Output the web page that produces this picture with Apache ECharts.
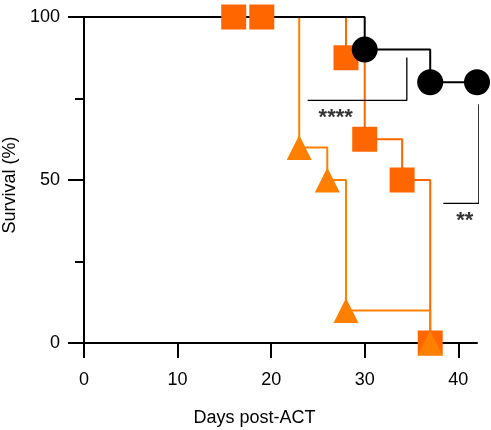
<!doctype html>
<html>
    <head>
        <meta charset="utf-8">
        <title>Survival</title>
        <style>
            html, body { margin: 0; padding: 0; background: #fff; }
            #main { width: 491px; height: 430px; }
        </style>
    </head>
    <body>
        <div id="main"></div>
        <script src="https://cdn.jsdelivr.net/npm/echarts@6/dist/echarts.min.js"></script>
        <script>
            var chart = echarts.init(document.getElementById('main'));

            // Kaplan-Meier steps: [day, survival %]
            var circleDays = [0, 30, 37, 42];
            var circleSurv = [100, 90, 80, 80];
            var squareDays = [0, 16, 19, 28, 30, 34, 37];
            var squareSurv = [100, 100, 100, 87.5, 62.5, 50, 0];
            var triangleDays = [0, 23, 26, 28, 37];
            var triangleSurv = [100, 60, 50, 10, 0];

            var xTicks = [0, 10, 20, 30, 40];
            var yTicks = [0, 50, 100];

            // significance brackets (data units)
            var bracketA = [[23.9, 74.4], [34.5, 74.4], [34.5, 87.6]];
            var bracketB = [[38.4, 42.8], [42.2, 42.8], [42.2, 73.2]];
            var starLabels = [[26.9, 69.0, '****'], [40.7, 37.4, '**']];

            function stepData(days, surv) {
                return days.map(function (d, i) {
                    return i === 0 ? { value: [d, surv[i]], symbol: 'none' } : [d, surv[i]];
                });
            }

            var font = 'Liberation Sans, Arial, sans-serif';

            function kmSeries(days, surv, color, symbol, size) {
                return {
                    type: 'line',
                    step: 'end',
                    data: stepData(days, surv),
                    symbol: symbol,
                    symbolSize: size,
                    showAllSymbol: true,
                    clip: false,
                    lineStyle: { color: color, width: 2 },
                    itemStyle: { color: color, borderWidth: 0 },
                    emphasis: { disabled: true },
                    animation: false
                };
            }

            function bracket(pts) {
                return {
                    type: 'line',
                    data: pts,
                    symbol: 'none',
                    clip: false,
                    lineStyle: { color: '#000', width: 1.3 },
                    animation: false,
                    silent: true
                };
            }

            chart.setOption({
                animation: false,
                grid: { left: 84, right: 14, top: 17, bottom: 87, containLabel: false, outerBoundsMode: 'none' },
                xAxis: {
                    type: 'value',
                    min: 0,
                    max: 42,
                    interval: 10,
                    name: 'Days post-ACT',
                    nameLocation: 'middle',
                    nameGap: 66,
                    nameTextStyle: { fontFamily: font, fontSize: 18, color: '#000', padding: [0, 52, 0, 0] },
                    axisLine: { show: true, lineStyle: { color: '#000', width: 2 } },
                    axisTick: { show: true, inside: false, length: 15, lineStyle: { color: '#000', width: 2 } },
                    axisLabel: {
                        fontFamily: font, fontSize: 18, color: '#000', margin: 28,
                        showMaxLabel: false,
                        formatter: function (v) { return xTicks.indexOf(v) >= 0 ? v : ''; }
                    },
                    splitLine: { show: false }
                },
                yAxis: {
                    type: 'value',
                    min: 0,
                    max: 100,
                    interval: 50,
                    name: 'Survival (%)',
                    nameLocation: 'middle',
                    nameGap: 58,
                    nameTextStyle: { fontFamily: font, fontSize: 18, color: '#000', padding: [0, 10, 0, 0] },
                    axisLine: { show: true, lineStyle: { color: '#000', width: 2 } },
                    axisTick: { show: true, inside: false, length: 16, lineStyle: { color: '#000', width: 2 } },
                    minorTick: { show: true, splitNumber: 2, length: 9, lineStyle: { color: '#000', width: 2 } },
                    axisLabel: {
                        fontFamily: font, fontSize: 18, color: '#000', margin: 24,
                        formatter: function (v) { return yTicks.indexOf(v) >= 0 ? v : ''; }
                    },
                    splitLine: { show: false }
                },
                series: [
                    kmSeries(squareDays, squareSurv, '#FF6600', 'rect', 25),
                    kmSeries(triangleDays, triangleSurv, '#FF8000', 'triangle', 25),
                    kmSeries(circleDays, circleSurv, '#000000', 'circle', 26),
                    bracket(bracketA),
                    bracket(bracketB),
                    {
                        type: 'scatter',
                        data: starLabels,
                        symbol: 'circle',
                        symbolSize: 2,
                        itemStyle: { color: 'rgba(0,0,0,0)' },
                        clip: false,
                        label: {
                            show: true,
                            position: 'inside',
                            formatter: function (p) { return p.value[2]; },
                            fontFamily: font,
                            fontSize: 22,
                            fontWeight: 'bold',
                            color: '#000'
                        },
                        labelLayout: { hideOverlap: false },
                        animation: false,
                        silent: true
                    }
                ]
            });

            window.addEventListener('resize', function () {
                chart.resize();
            });
        </script>
    </body>
</html>
